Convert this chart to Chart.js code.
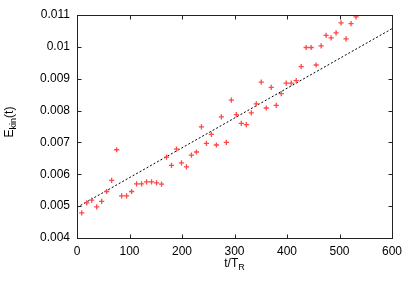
<!DOCTYPE html>
<html>
<head>
<meta charset="utf-8">
<script src="https://cdn.jsdelivr.net/npm/chart.js@4"></script>
<style>
html, body { margin: 0; padding: 0; background: #fff; }
</style>
</head>
<body>
<canvas id="graficaEnergia" width="415" height="291"></canvas>
<script>
// ===============================
// DATOS
// ===============================
const tiempos = [9, 18.5, 28, 37.5, 47, 56.5, 66, 75.5, 85, 94.5, 104, 113.5, 123, 132.5,
    142, 151.5, 161, 170.5, 180, 189.5, 199, 208.5, 218, 227.5, 237, 246.5, 256, 265.5,
    275, 284.5, 294, 303.5, 313, 322.5, 332, 341.5, 351, 360.5, 370, 379.5, 389, 398.5,
    408, 417.5, 427, 436.5, 446, 455.5, 465, 474.5, 484, 493.5, 503, 512.5, 522, 531.5];
const energia = [0.00479, 0.00510, 0.00519, 0.00498, 0.00515, 0.00546, 0.00581, 0.00677,
    0.00532, 0.00532, 0.00546, 0.00570, 0.00570, 0.00576, 0.00576, 0.00573, 0.00569,
    0.00654, 0.00628, 0.00679, 0.00636, 0.00623, 0.00660, 0.00670, 0.00749, 0.00697,
    0.00725, 0.00692, 0.00780, 0.00700, 0.00833, 0.00787, 0.00760, 0.00756, 0.00793,
    0.00821, 0.00889, 0.00808, 0.00873, 0.00816, 0.00853, 0.00886, 0.00886, 0.00894,
    0.00938, 0.00998, 0.00998, 0.00943, 0.01003, 0.01036, 0.01028, 0.01044, 0.01075,
    0.01025, 0.01073, 0.01094];
const ajusteX = [0, 600];
const ajusteY = [0.00496, 0.01057];
const ticksX = [0, 100, 200, 300, 400, 500, 600];
const ticksY = [0.004, 0.005, 0.006, 0.007, 0.008, 0.009, 0.01, 0.011];

const FUENTE = "'Liberation Sans', Arial, Helvetica, sans-serif";
Chart.defaults.font.family = FUENTE;
Chart.defaults.font.size = 12;
Chart.defaults.color = "#000";

// ===============================
// MARCO, TICKS HACIA DENTRO Y TÍTULOS
// ===============================
const marcoGnuplot = {
    id: "marcoGnuplot",
    afterDraw(chart) {
        const ctx = chart.ctx;
        const a = chart.chartArea;
        const sx = chart.scales.x, sy = chart.scales.y;
        const L = Math.round(a.left) + 0.5, R = Math.round(a.right) + 0.5;
        const T = Math.round(a.top) + 0.5, B = Math.round(a.bottom) + 0.5;
        const largo = 4;
        ctx.save();
        ctx.strokeStyle = "#222";
        ctx.lineWidth = 1;
        ctx.strokeRect(L, T, R - L, B - T);
        ctx.beginPath();
        ticksX.forEach(v => {
            const px = Math.round(sx.getPixelForValue(v)) + 0.5;
            ctx.moveTo(px, B); ctx.lineTo(px, B - largo);
            ctx.moveTo(px, T); ctx.lineTo(px, T + largo);
        });
        ticksY.forEach(v => {
            const py = Math.round(sy.getPixelForValue(v)) + 0.5;
            ctx.moveTo(L, py); ctx.lineTo(L + largo, py);
            ctx.moveTo(R, py); ctx.lineTo(R - largo, py);
        });
        ctx.stroke();

        // título con subíndice
        const titulo = (base, sub, cola, cx, cy, rot) => {
            ctx.save();
            ctx.translate(cx, cy);
            ctx.rotate(rot);
            ctx.fillStyle = "#000";
            ctx.textBaseline = "alphabetic";
            ctx.textAlign = "left";
            ctx.font = "12px " + FUENTE;
            const w1 = ctx.measureText(base).width;
            const w3 = ctx.measureText(cola).width;
            ctx.font = "9px " + FUENTE;
            const w2 = ctx.measureText(sub).width;
            let x = -(w1 + w2 + w3) / 2;
            ctx.font = "12px " + FUENTE;
            ctx.fillText(base, x, 0);
            x += w1;
            ctx.font = "9px " + FUENTE;
            ctx.fillText(sub, x, 3);
            x += w2;
            ctx.font = "12px " + FUENTE;
            ctx.fillText(cola, x, 0);
            ctx.restore();
        };
        titulo("t/T", "R", "", (a.left + a.right) / 2, 267, 0);
        titulo("E", "kin", "(t)", 13, 122, -Math.PI / 2);
        ctx.restore();
    }
};

// ===============================
// GRÁFICA
// ===============================
new Chart(document.getElementById("graficaEnergia"), {
    type: "scatter",
    data: {
        datasets: [
            {
                label: "E_kin",
                data: tiempos.map((t, i) => ({ x: t, y: energia[i] })),
                pointStyle: "cross",
                pointRadius: 2.6,
                pointBorderWidth: 1.3,
                borderColor: "#ff4848",
                backgroundColor: "#ff4848"
            },
            {
                type: "line",
                label: "ajuste",
                data: ajusteX.map((t, i) => ({ x: t, y: ajusteY[i] })),
                borderColor: "#000",
                borderWidth: 1,
                borderDash: [2, 2],
                pointRadius: 0,
                fill: false
            }
        ]
    },
    options: {
        responsive: false,
        animation: false,
        layout: { padding: { top: 15, right: 23, left: 0, bottom: 0 } },
        plugins: {
            legend: { display: false },
            tooltip: { enabled: false }
        },
        scales: {
            x: {
                type: "linear",
                min: 0,
                max: 600,
                afterBuildTicks: s => { s.ticks = ticksX.map(v => ({ value: v })); },
                afterFit: s => { s.height = 53; },
                grid: { display: false, drawTicks: false },
                border: { display: false },
                ticks: { padding: 6, maxRotation: 0, color: "#000" }
            },
            y: {
                type: "linear",
                min: 0.004,
                max: 0.011,
                afterBuildTicks: s => { s.ticks = ticksY.map(v => ({ value: v })); },
                afterFit: s => { s.width = 77; },
                grid: { display: false, drawTicks: false },
                border: { display: false },
                ticks: {
                    padding: 7,
                    color: "#000",
                    callback: v => String(+v.toFixed(3))
                }
            }
        }
    },
    plugins: [marcoGnuplot]
});
</script>
</body>
</html>
